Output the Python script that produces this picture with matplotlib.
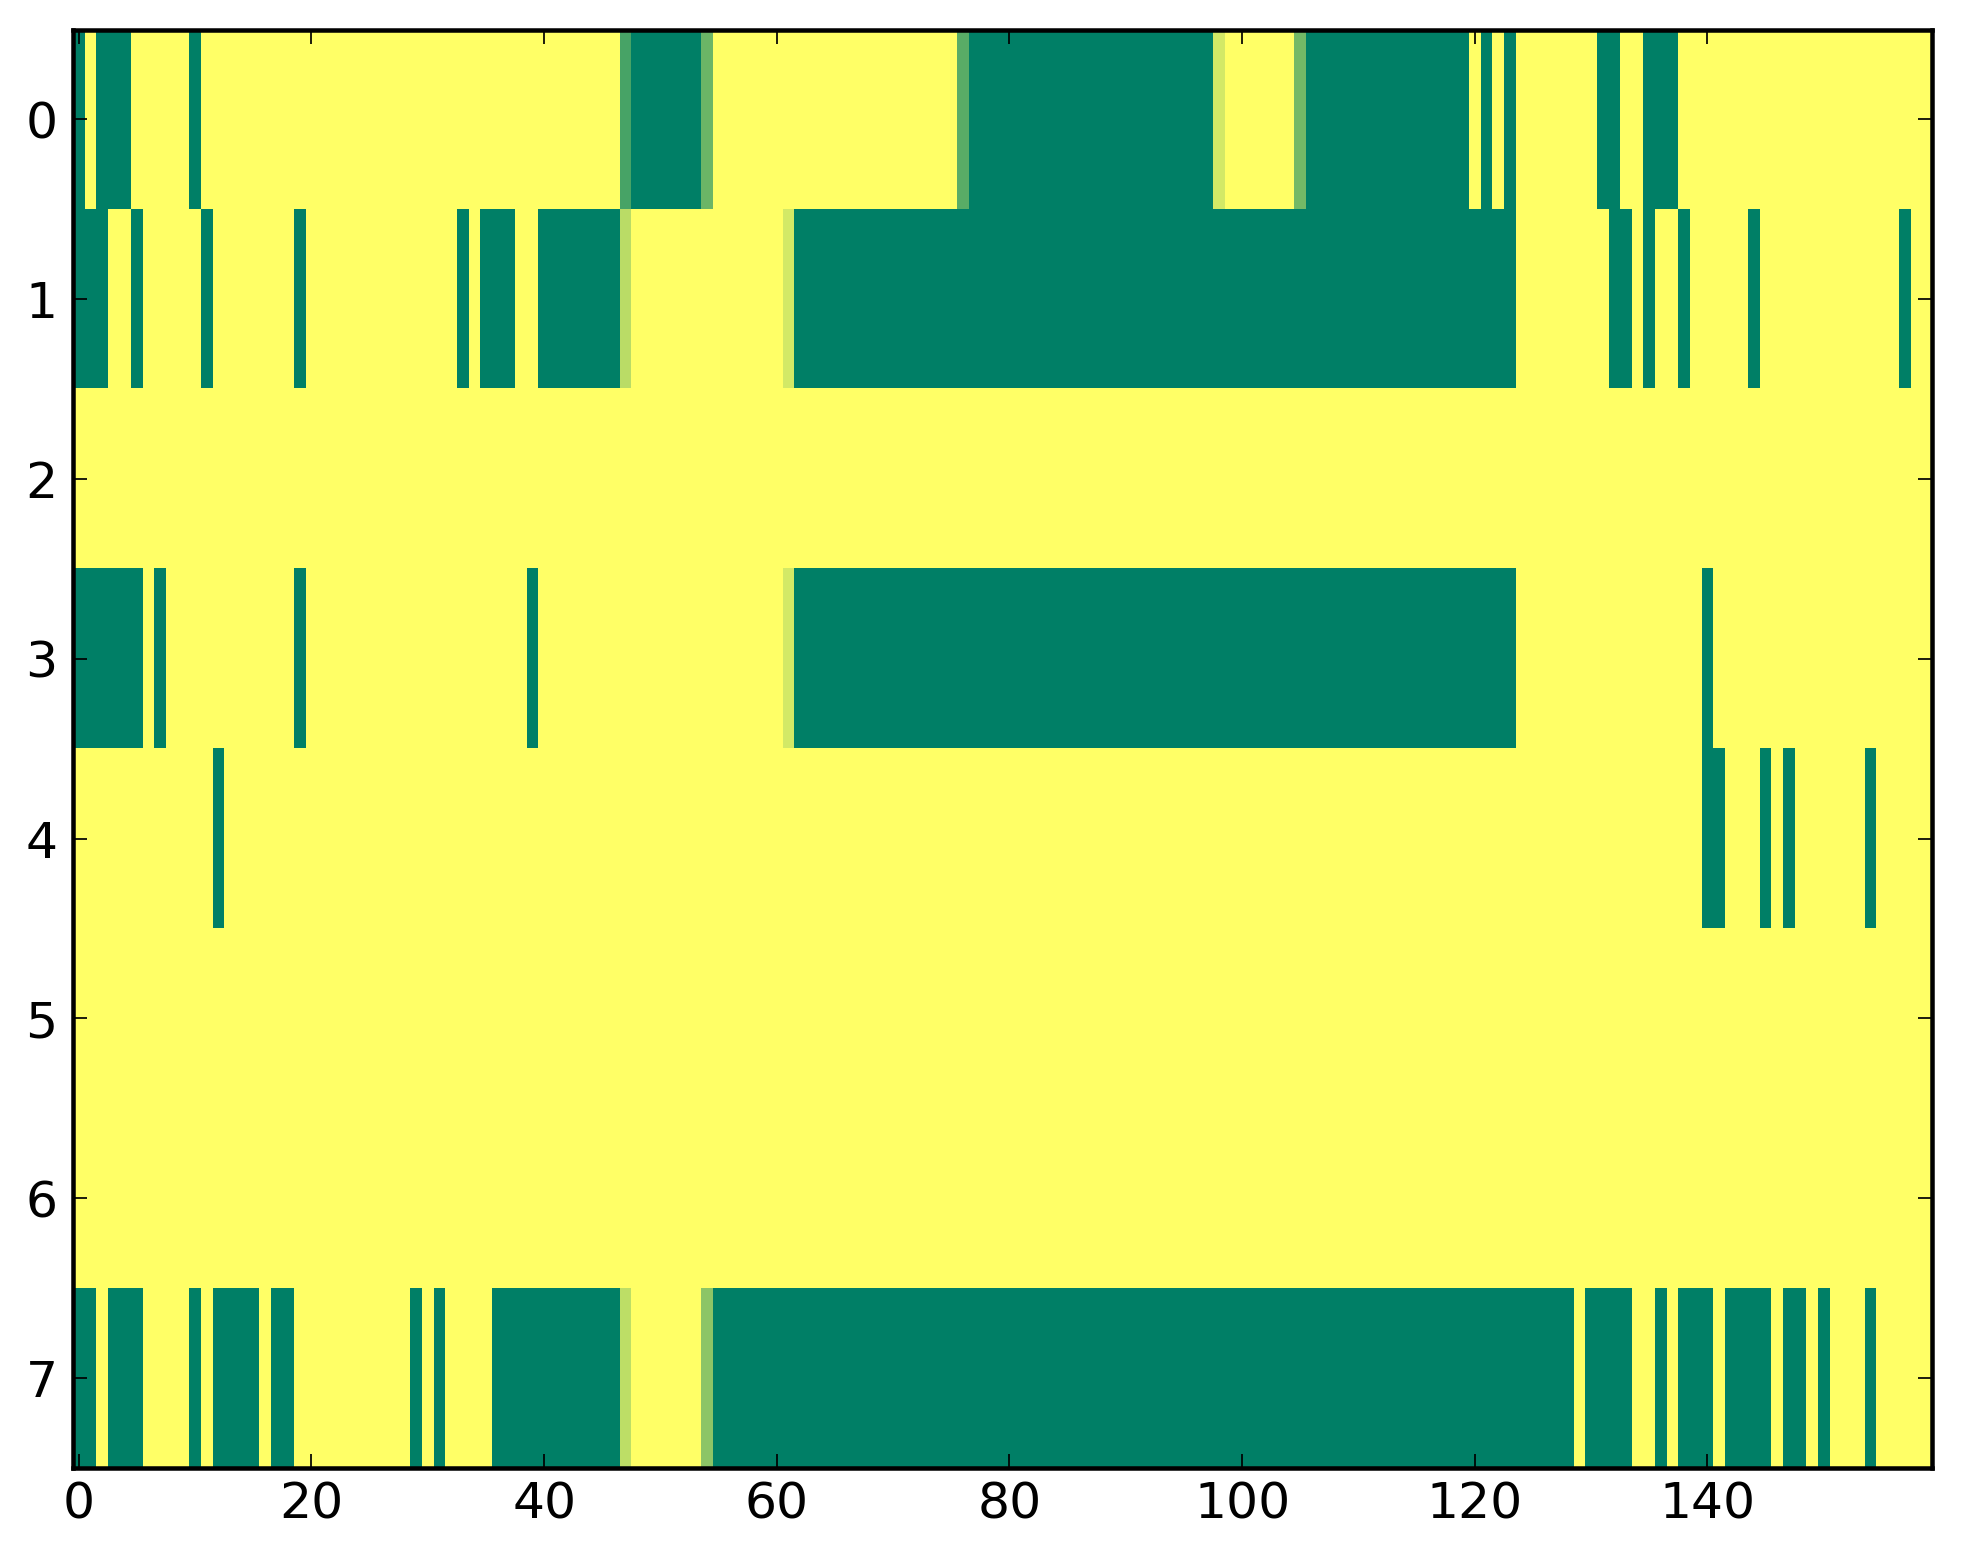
import numpy as np
import matplotlib
matplotlib.use('Agg')
import matplotlib.pyplot as plt

# ---- donnees (8 lignes x 160 colonnes) ----
n_rows = 8
n_cols = 160

# plages de colonnes a 0 (vert), bornes incluses, par ligne
green_runs = {
    0: [(0, 0), (2, 4), (10, 10), (48, 53), (77, 97), (106, 119), (121, 121),
        (123, 123), (131, 132), (135, 137)],
    1: [(0, 2), (5, 5), (11, 11), (19, 19), (33, 33), (35, 37), (40, 46),
        (62, 123), (132, 133), (135, 135), (138, 138), (144, 144), (157, 157)],
    2: [],
    3: [(0, 5), (7, 7), (19, 19), (39, 39), (62, 123), (140, 140)],
    4: [(12, 12), (140, 141), (145, 145), (147, 147), (154, 154)],
    5: [],
    6: [],
    7: [(0, 1), (3, 5), (10, 10), (12, 15), (17, 18), (29, 29), (31, 31),
        (36, 46), (55, 128), (130, 133), (136, 136), (138, 140), (142, 145),
        (147, 148), (150, 150), (154, 154)],
}

# cellules intermediaires (ligne, colonne) -> valeur
partial_cells = {
    (0, 47): 0.28, (0, 54): 0.42, (0, 76): 0.35, (0, 98): 0.83, (0, 105): 0.45,
    (1, 47): 0.73, (1, 61): 0.83,
    (3, 61): 0.83,
    (7, 47): 0.74, (7, 54): 0.55,
}

x_ticks = [0, 20, 40, 60, 80, 100, 120, 140]
y_ticks = [0, 1, 2, 3, 4, 5, 6, 7]

# construction de la matrice
grid = np.ones((n_rows, n_cols))
for r, runs in green_runs.items():
    for a, b in runs:
        grid[r, a:b + 1] = 0.0
for (r, c), v in partial_cells.items():
    grid[r, c] = v

fig = plt.figure(figsize=(1963 / 250, 1564 / 250), dpi=250)
ax = fig.add_axes([73 / 1963, 1 - 1468 / 1564, (1932 - 73) / 1963, (1468 - 29.5) / 1564])

ax.imshow(grid, cmap='summer', vmin=0, vmax=1, aspect='auto', interpolation='nearest')
ax.set_xlim(-0.5, 159.3)
ax.set_ylim(7.5, -0.5)

ax.set_xticks(x_ticks)
ax.set_yticks(y_ticks)
ax.tick_params(direction='in', length=4, width=0.5, top=True, right=True,
               labelsize=14.5, color='black')
ax.tick_params(axis='x', pad=3.5)
ax.tick_params(axis='y', pad=4.5)
for s in ax.spines.values():
    s.set_linewidth(1.3)

fig.savefig('out.png', dpi=250)
